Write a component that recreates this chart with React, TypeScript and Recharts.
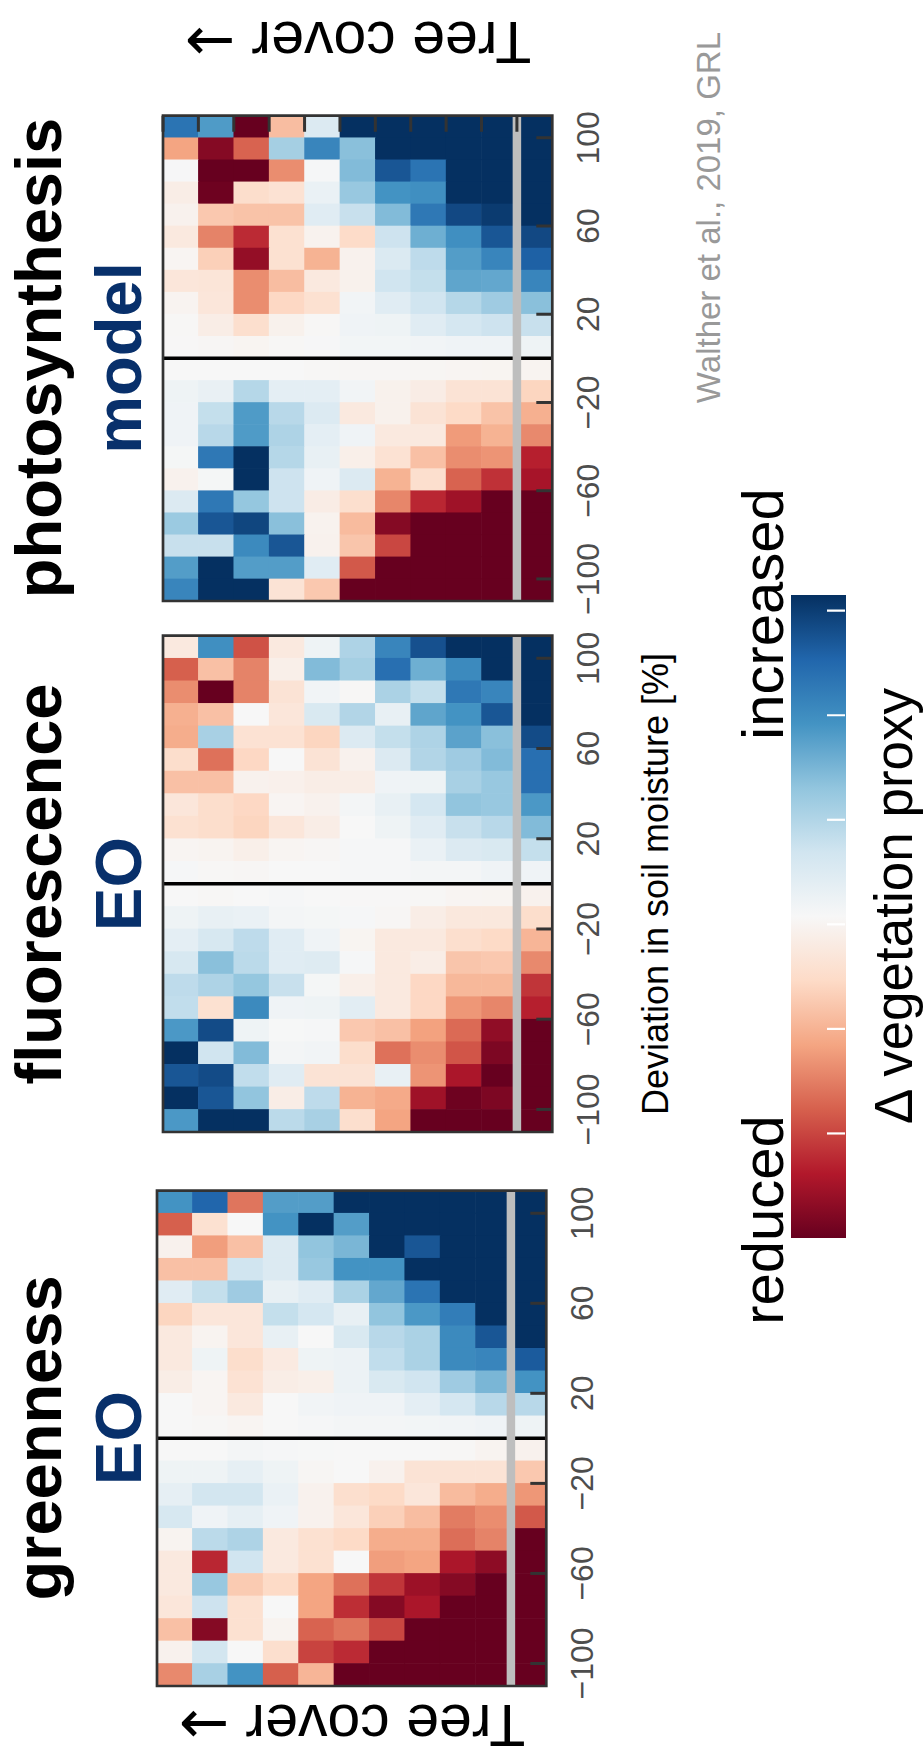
import React from 'react';
import { ScatterChart, Scatter, XAxis, YAxis, ReferenceLine, ReferenceArea } from 'recharts';

// soil-moisture bin centres, listed top row -> bottom row of each rotated panel (i.e. +105 ... -105)
const moistureCenters = [105, 95, 85, 75, 65, 55, 45, 35, 25, 15, 5, -5, -15, -25, -35, -45, -55, -65, -75, -85, -95, -105];
// tree-cover bin centres (high tree cover -> lowest bin)
const treeCenters = [10.5, 9.5, 8.5, 7.5, 6.5, 5.5, 4.5, 3.5, 2.5, 1.5, 0.5];
const xTicks = [-100, -60, -20, 20, 60, 100];
const treeTicks = [1, 2, 3, 4, 5, 6, 7, 8, 9, 10, 11];
const cbTicks = [1, 2, 3, 4, 5, 6];

// values on a -5 (strongly reduced) ... +5 (strongly increased) scale
const greenness = [
  [3, 4, -2.7, 2.8, 2.8, 5, 5, 5, 5, 5, 5],
  [-3, -0.8, 0, 3, 5, 2.8, 5, 5, 5, 5, 5],
  [-0.2, -2.1, -1.5, 0.7, 2, 2.3, 5, 4.3, 5, 5, 5],
  [-1.5, -1.5, 1, 0.7, 1.9, 3, 3, 5, 5, 5, 5],
  [0.6, 1.2, 1.8, 0.4, 0.6, 1.6, 2.6, 3.7, 5, 5, 5],
  [-1.1, -0.6, -0.6, 1.2, 0.9, 0.4, 2, 2.9, 3.5, 5, 5],
  [-0.5, -0.15, -0.6, 0.4, 0, 0.8, 1.4, 1.6, 3.2, 4.3, 5],
  [-0.5, 0.25, -0.9, -0.45, 0.25, 0.3, 1.25, 1.6, 3.2, 3.3, 4.2],
  [-0.35, -0.1, -0.75, -0.35, -0.3, 0.3, 0.8, 1, 1.8, 2.3, 3],
  [0, -0.1, -0.5, 0, 0.15, 0.2, 0.2, 0.5, 0.9, 1.4, 1.4],
  [0, -0.05, -0.1, 0, 0.05, 0.1, 0.1, 0.12, 0.15, 0.2, 0.25],
  [0, 0, 0.1, 0.05, 0.02, 0, 0, 0, -0.05, -0.15, -0.2],
  [0.25, 0.25, 0.45, 0.25, -0.08, 0, -0.2, -0.7, -0.7, -0.7, -1.35],
  [0.45, 0.95, 0.95, 0.35, -0.2, -0.85, -1, -0.6, -1.6, -1.85, -2.2],
  [0.85, 0.2, 0.45, 0.2, -0.2, -0.6, -1.2, -1.55, -2.6, -2.35, -3.1],
  [-0.15, 1.35, 1.55, -0.5, -0.8, -1, -1.85, -1.85, -2.8, -2.5, -5],
  [-0.5, -3.8, 1, -0.5, -0.8, 0, -2.1, -2, -4.1, -4.5, -5],
  [-0.5, 1.9, -1.3, -1, -2, -2.75, -3.6, -4.3, -4.6, -5, -5],
  [-0.6, 1.05, -0.8, 0, -2, -3.7, -4.6, -4.1, -5, -5, -5],
  [-1.5, -4.6, -0.8, -0.15, -2.95, -2.7, -3.35, -5, -5, -5, -5],
  [-0.2, 0.95, 0, -0.85, -3.4, -3.75, -5, -5, -5, -5, -5],
  [-2.4, 1.65, 3, -3, -1.7, -5, -5, -5, -5, -5, -5],
];

const fluorescence = [
  [-0.5, 3.1, -3.2, -0.5, 0.25, 1.55, 3.3, 4.4, 5, 5, 5],
  [-3, -1.5, -2.5, -0.3, 2.2, 1.7, 3.8, 2.45, 3.2, 5, 5],
  [-2.35, -5, -2.5, -0.7, 0.15, -0.05, 1.6, 1.2, 3.6, 3.3, 5],
  [-1.8, -1.5, 0, -0.6, 0.8, 1.5, 0.4, 2.65, 3, 4.3, 5],
  [-1.85, 1.65, -0.75, -0.75, -1.1, 0.7, 1.2, 1.55, 2.7, 2.1, 4.5],
  [-0.9, -2.75, -1.05, 0, -0.7, -0.2, 0.7, 1.5, 1.8, 2.2, 3.8],
  [-1.5, -1.5, -0.2, -0.25, -0.35, -0.35, 0.2, 0.25, 1.65, 1.9, 3.8],
  [-0.6, -0.9, -1.05, -0.1, -0.2, 0.1, 0.4, 0.9, 2, 1.9, 2.9],
  [-0.8, -0.9, -1.1, -0.6, -0.35, 0, 0.25, 0.6, 1.15, 1.4, 2.2],
  [-0.1, -0.15, -0.3, -0.1, -0.07, 0.05, 0.05, 0.35, 0.7, 0.8, 1.2],
  [0.05, -0.05, -0.07, 0, 0, 0.05, 0.05, 0.1, 0.1, 0.2, 0.2],
  [0, -0.05, 0, 0.05, 0, -0.02, -0.02, -0.05, -0.1, -0.12, -0.2],
  [0.25, 0.4, 0.35, 0.1, 0.08, 0.05, -0.07, -0.35, -0.55, -0.55, -0.9],
  [0.5, 0.85, 1.3, 0.6, 0.2, -0.12, -0.5, -0.5, -0.85, -1, -1.7],
  [0.85, 2.1, 1.35, 0.6, 0.65, 0.05, -0.5, -0.35, -1.4, -1.35, -2.4],
  [1.3, 1.55, 1.95, 1.15, 0.08, -0.3, -0.5, -1.05, -1.65, -1.65, -3.6],
  [1.25, -0.8, 3.2, 0.2, 0.25, 0.55, -0.5, -1.05, -2.2, -2.45, -3.9],
  [2.9, 4.5, 0.25, 0.02, 0.05, -1.35, -1.5, -2.05, -2.85, -4.45, -5],
  [5, 1, 2.2, 0.1, 0.15, -0.9, -2.75, -2.35, -3.15, -4.7, -5],
  [4.3, 4.5, 1.25, 0.6, -0.7, -0.7, 0.4, -2.25, -4.1, -5, -5],
  [5, 4.3, 2, -0.35, 1.3, -1.75, -1.9, -4.25, -4.9, -4.7, -5],
  [2.9, 5, 5, 1.35, 1.65, -0.85, -2, -5, -5, -5, -5],
];

const photosynthesis = [
  [3.7, 2.85, -5, -1.55, 0.7, 5, 5, 5, 5, 5, 5],
  [-2, -4.6, -2.95, 1.7, 3.3, 2.1, 5, 5, 5, 5, 5],
  [0.03, -5, -5, -2.35, 0.05, 2.2, 4.3, 3.7, 5, 5, 5],
  [-0.35, -4.9, -0.9, -0.75, 0.35, 1.9, 3, 3.1, 5, 5, 5],
  [-0.2, -1.35, -1.45, -1.45, 0.6, 1.15, 2.2, 3.6, 4.55, 4.8, 5],
  [-0.5, -2.5, -3.75, -0.8, -0.18, -0.95, 1.05, 2.45, 3.1, 4.3, 4.55],
  [-0.1, -1.2, -4.4, -0.8, -1.75, -0.2, 0.75, 1.3, 2.8, 3.3, 4.1],
  [-0.6, -0.65, -2.35, -1.55, -0.5, -0.22, 1, 1.2, 2.65, 2.6, 3.3],
  [-0.15, -0.6, -2.35, -1.05, -0.8, 0.15, 0.6, 1, 1.45, 1.8, 2.1],
  [-0.05, -0.35, -0.85, -0.22, -0.05, 0.2, 0.25, 0.6, 0.9, 1.05, 1.15],
  [-0.02, -0.07, -0.12, -0.05, 0.03, 0.12, 0.12, 0.15, 0.2, 0.2, 0.25],
  [0, 0, 0, 0, -0.05, -0.07, -0.07, -0.08, -0.1, -0.12, -0.15],
  [0.25, 0.38, 1.45, 0.5, 0.5, 0.15, -0.22, -0.38, -0.7, -0.7, -1.1],
  [0.2, 1.2, 2.85, 1.4, 0.72, -0.5, -0.22, -0.7, -1, -1.45, -1.8],
  [0.2, 1.4, 2.85, 1.55, 0.5, 0.2, -0.5, -0.5, -2.15, -1.75, -2.4],
  [0.08, 3.6, 5, 1.45, 0.4, -0.3, -0.75, -1.5, -2.35, -2.25, -3.9],
  [-0.2, 0.08, 5, 1.05, 0.2, 0.7, -1.75, -0.85, -2.95, -3.65, -4.15],
  [0.7, 3.6, 1.95, 1.05, -0.38, -0.85, -2.45, -3.8, -4.25, -5, -5],
  [1.85, 4.3, 4.6, 2.1, -0.18, -1.6, -4.6, -5, -5, -5, -5],
  [1.15, 1.15, 3.2, 4.3, -0.2, -1.4, -3.35, -5, -5, -5, -5],
  [2.8, 5, 2.8, 2.8, 0.6, -3.1, -5, -5, -5, -5, -5],
  [3.3, 5, 5, -0.7, -1.35, -5, -5, -5, -5, -5, -5],
];

const RDBU = ['#67001f', '#b2182b', '#d6604d', '#f4a582', '#fddbc7', '#f7f7f7', '#d1e5f0', '#92c5de', '#4393c3', '#2166ac', '#053061'];

function hex(c: string) {
  return [parseInt(c.slice(1, 3), 16), parseInt(c.slice(3, 5), 16), parseInt(c.slice(5, 7), 16)];
}
function rdbu(v: number) {
  const t = Math.max(-5, Math.min(5, v)) + 5;
  const i = Math.min(9, Math.floor(t));
  const f = t - i;
  const a = hex(RDBU[i]);
  const b = hex(RDBU[i + 1]);
  const m = a.map((av, k) => Math.round(av + (b[k] - av) * f));
  return `rgb(${m[0]},${m[1]},${m[2]})`;
}

function buildCells(grid: number[][]) {
  const out: { x: number; y: number; v: number }[] = [];
  grid.forEach((row, r) => row.forEach((v, c) => out.push({ x: moistureCenters[r], y: treeCenters[c], v })));
  return out;
}

const FONT = '"Liberation Sans", Arial, Helvetica, sans-serif';
const W = 1764;
const H = 923;
const PAD = 20;
const AXH = 70;
const FRAME = 2.7;

const panels = [
  { key: 'g', grid: greenness, x0: 77, x1: 575, y0: 156, y1: 548, rightTicks: false },
  { key: 'f', grid: fluorescence, x0: 631, x1: 1130, y0: 162, y1: 554, rightTicks: false },
  { key: 'p', grid: photosynthesis, x0: 1162, x1: 1650, y0: 162, y1: 554, rightTicks: true },
];

const fmt = (v: number) => (v < 0 ? '\u2212' + Math.abs(v) : String(v));

const XTick = (props: any) => {
  const { x, y, payload } = props;
  return (
    <g>
      <line x1={x} x2={x} y1={y} y2={y - 16} stroke="#333" strokeWidth={3} />
      <text x={x} y={y + 47} textAnchor="middle" fontSize={32} fill="#4d4d4d" fontFamily={FONT}>
        {fmt(payload.value)}
      </text>
    </g>
  );
};

const YTickRight = (props: any) => {
  const { x, y } = props;
  return <line x1={x} x2={x - 16} y1={y} y2={y} stroke="#333" strokeWidth={3} />;
};

function Panel({ p }: { p: (typeof panels)[number] }) {
  const px = p.x0 + FRAME / 2;
  const py = p.y0 + FRAME / 2;
  const pw = p.x1 - p.x0 - FRAME;
  const ph = p.y1 - p.y0 - FRAME;
  const cw = pw / moistureCenters.length;
  const chh = ph / treeCenters.length;
  const cells = buildCells(p.grid);
  const shape = (s: any) => (
    <rect x={s.cx - cw / 2 - 0.3} y={s.cy - chh / 2 - 0.3} width={cw + 0.6} height={chh + 0.6} fill={rdbu(s.payload.v)} />
  );
  return (
    <div style={{ position: 'absolute', left: px - PAD, top: py - PAD }}>
      <ScatterChart
        width={pw + 2 * PAD}
        height={ph + PAD + AXH}
        margin={{ top: PAD, right: p.rightTicks ? PAD - 1 : PAD, bottom: 0, left: PAD }}
      >
        <XAxis
          type="number"
          dataKey="x"
          domain={[-110, 110]}
          ticks={xTicks}
          interval={0}
          tickSize={0}
          tickMargin={0}
          axisLine={false}
          tickLine={false}
          height={AXH}
          tick={(t: any) => <XTick {...t} />}
          allowDataOverflow
        />
        {p.rightTicks ? (
          <YAxis
            type="number"
            dataKey="y"
            orientation="right"
            domain={[0, 11]}
            ticks={treeTicks}
            interval={0}
            tickSize={0}
            tickMargin={0}
            axisLine={false}
            tickLine={false}
            width={1}
            tick={(t: any) => <YTickRight {...t} />}
            allowDataOverflow
          />
        ) : (
          <YAxis type="number" dataKey="y" domain={[0, 11]} hide allowDataOverflow />
        )}
        <Scatter data={cells} shape={shape} isAnimationActive={false} />
        <ReferenceLine x={0} stroke="#000" strokeWidth={3.5} zIndex={1000} />
        <ReferenceLine y={1} stroke="#bebebe" strokeWidth={8.5} zIndex={1001} />
        <ReferenceArea x1={-110} x2={110} y1={0} y2={11} fill="none" fillOpacity={0} stroke="#333" strokeWidth={FRAME} zIndex={1002} />
      </ScatterChart>
    </div>
  );
}

const cbTickData = cbTicks.map((t) => ({ x: t, y: 0 }));

function Colorbar() {
  const stops = RDBU.map((c, i) => <stop key={i} offset={`${i * 10}%`} stopColor={c} />);
  const tickShape = (s: any) => <line x1={s.cx} x2={s.cx} y1={s.cy - 1} y2={s.cy - 19} stroke="#fff" strokeWidth={2.2} />;
  return (
    <div style={{ position: 'absolute', left: 526, top: 791 }}>
      <ScatterChart width={643} height={55} margin={{ top: 0, right: 0, bottom: 0, left: 0 }}>
        <defs>
          <linearGradient id="cbGrad" x1="0" y1="0" x2="1" y2="0">
            {stops}
          </linearGradient>
        </defs>
        <XAxis type="number" dataKey="x" domain={[0, 6.15]} hide allowDataOverflow />
        <YAxis type="number" dataKey="y" domain={[0, 1]} hide allowDataOverflow />
        <ReferenceArea x1={0} x2={6.15} y1={0} y2={1} fill="url(#cbGrad)" fillOpacity={1} stroke="none" />
        <Scatter data={cbTickData} shape={tickShape} isAnimationActive={false} />
      </ScatterChart>
    </div>
  );
}

function Texts() {
  const title = (cx: number, a: string, b: string) => (
    <g fontFamily={FONT} fontWeight="bold" fontSize={65} textAnchor="middle">
      <text x={cx} y={61} fill="#000">{a}</text>
      <text x={cx} y={141} fill="#08306b">{b}</text>
    </g>
  );
  const arrow = <tspan fontFamily='"DejaVu Sans", sans-serif' fontSize={60}>{'\u2192'}</tspan>;
  return (
    <svg width={W} height={H} style={{ position: 'absolute', left: 0, top: 0, pointerEvents: 'none' }}>
      {title(326, 'greenness', 'EO')}
      {title(880, 'fluorescence', 'EO')}
      {title(1406, 'photosynthesis', 'model')}
      <text transform="translate(59,352) rotate(-90)" textAnchor="middle" fontSize={59} fontFamily={FONT} fill="#000">
        Tree cover {arrow}
      </text>
      <text transform="translate(1742,358) rotate(-90)" textAnchor="middle" fontSize={59} fontFamily={FONT} fill="#000">
        Tree cover {arrow}
      </text>
      <text x={880} y={668} textAnchor="middle" fontSize={36} fontFamily={FONT} fill="#000">
        Deviation in soil moisture [%]
      </text>
      <text x={1732} y={720} textAnchor="end" fontSize={33} fontFamily={FONT} fill="#999">
        Walther et al., 2019, GRL
      </text>
      <text x={544} y={783} textAnchor="middle" fontSize={58} fontFamily={FONT} fill="#000">
        reduced
      </text>
      <text x={1150} y={783} textAnchor="middle" fontSize={58} fontFamily={FONT} fill="#000">
        increased
      </text>
      <text x={858} y={912} textAnchor="middle" fontSize={53} fontFamily={FONT} fill="#000">
        {'\u0394'} vegetation proxy
      </text>
    </svg>
  );
}

export default function App() {
  return (
    <div style={{ position: 'absolute', left: 0, top: 0, width: 923, height: 1764, overflow: 'hidden', background: '#fff' }}>
      <div
        style={{
          position: 'absolute',
          left: 0,
          top: 0,
          width: W,
          height: H,
          transformOrigin: '0 0',
          transform: 'translate(0px, 1764px) rotate(-90deg)',
        }}
      >
        {panels.map((p) => (
          <Panel key={p.key} p={p} />
        ))}
        <Colorbar />
        <Texts />
      </div>
    </div>
  );
}
